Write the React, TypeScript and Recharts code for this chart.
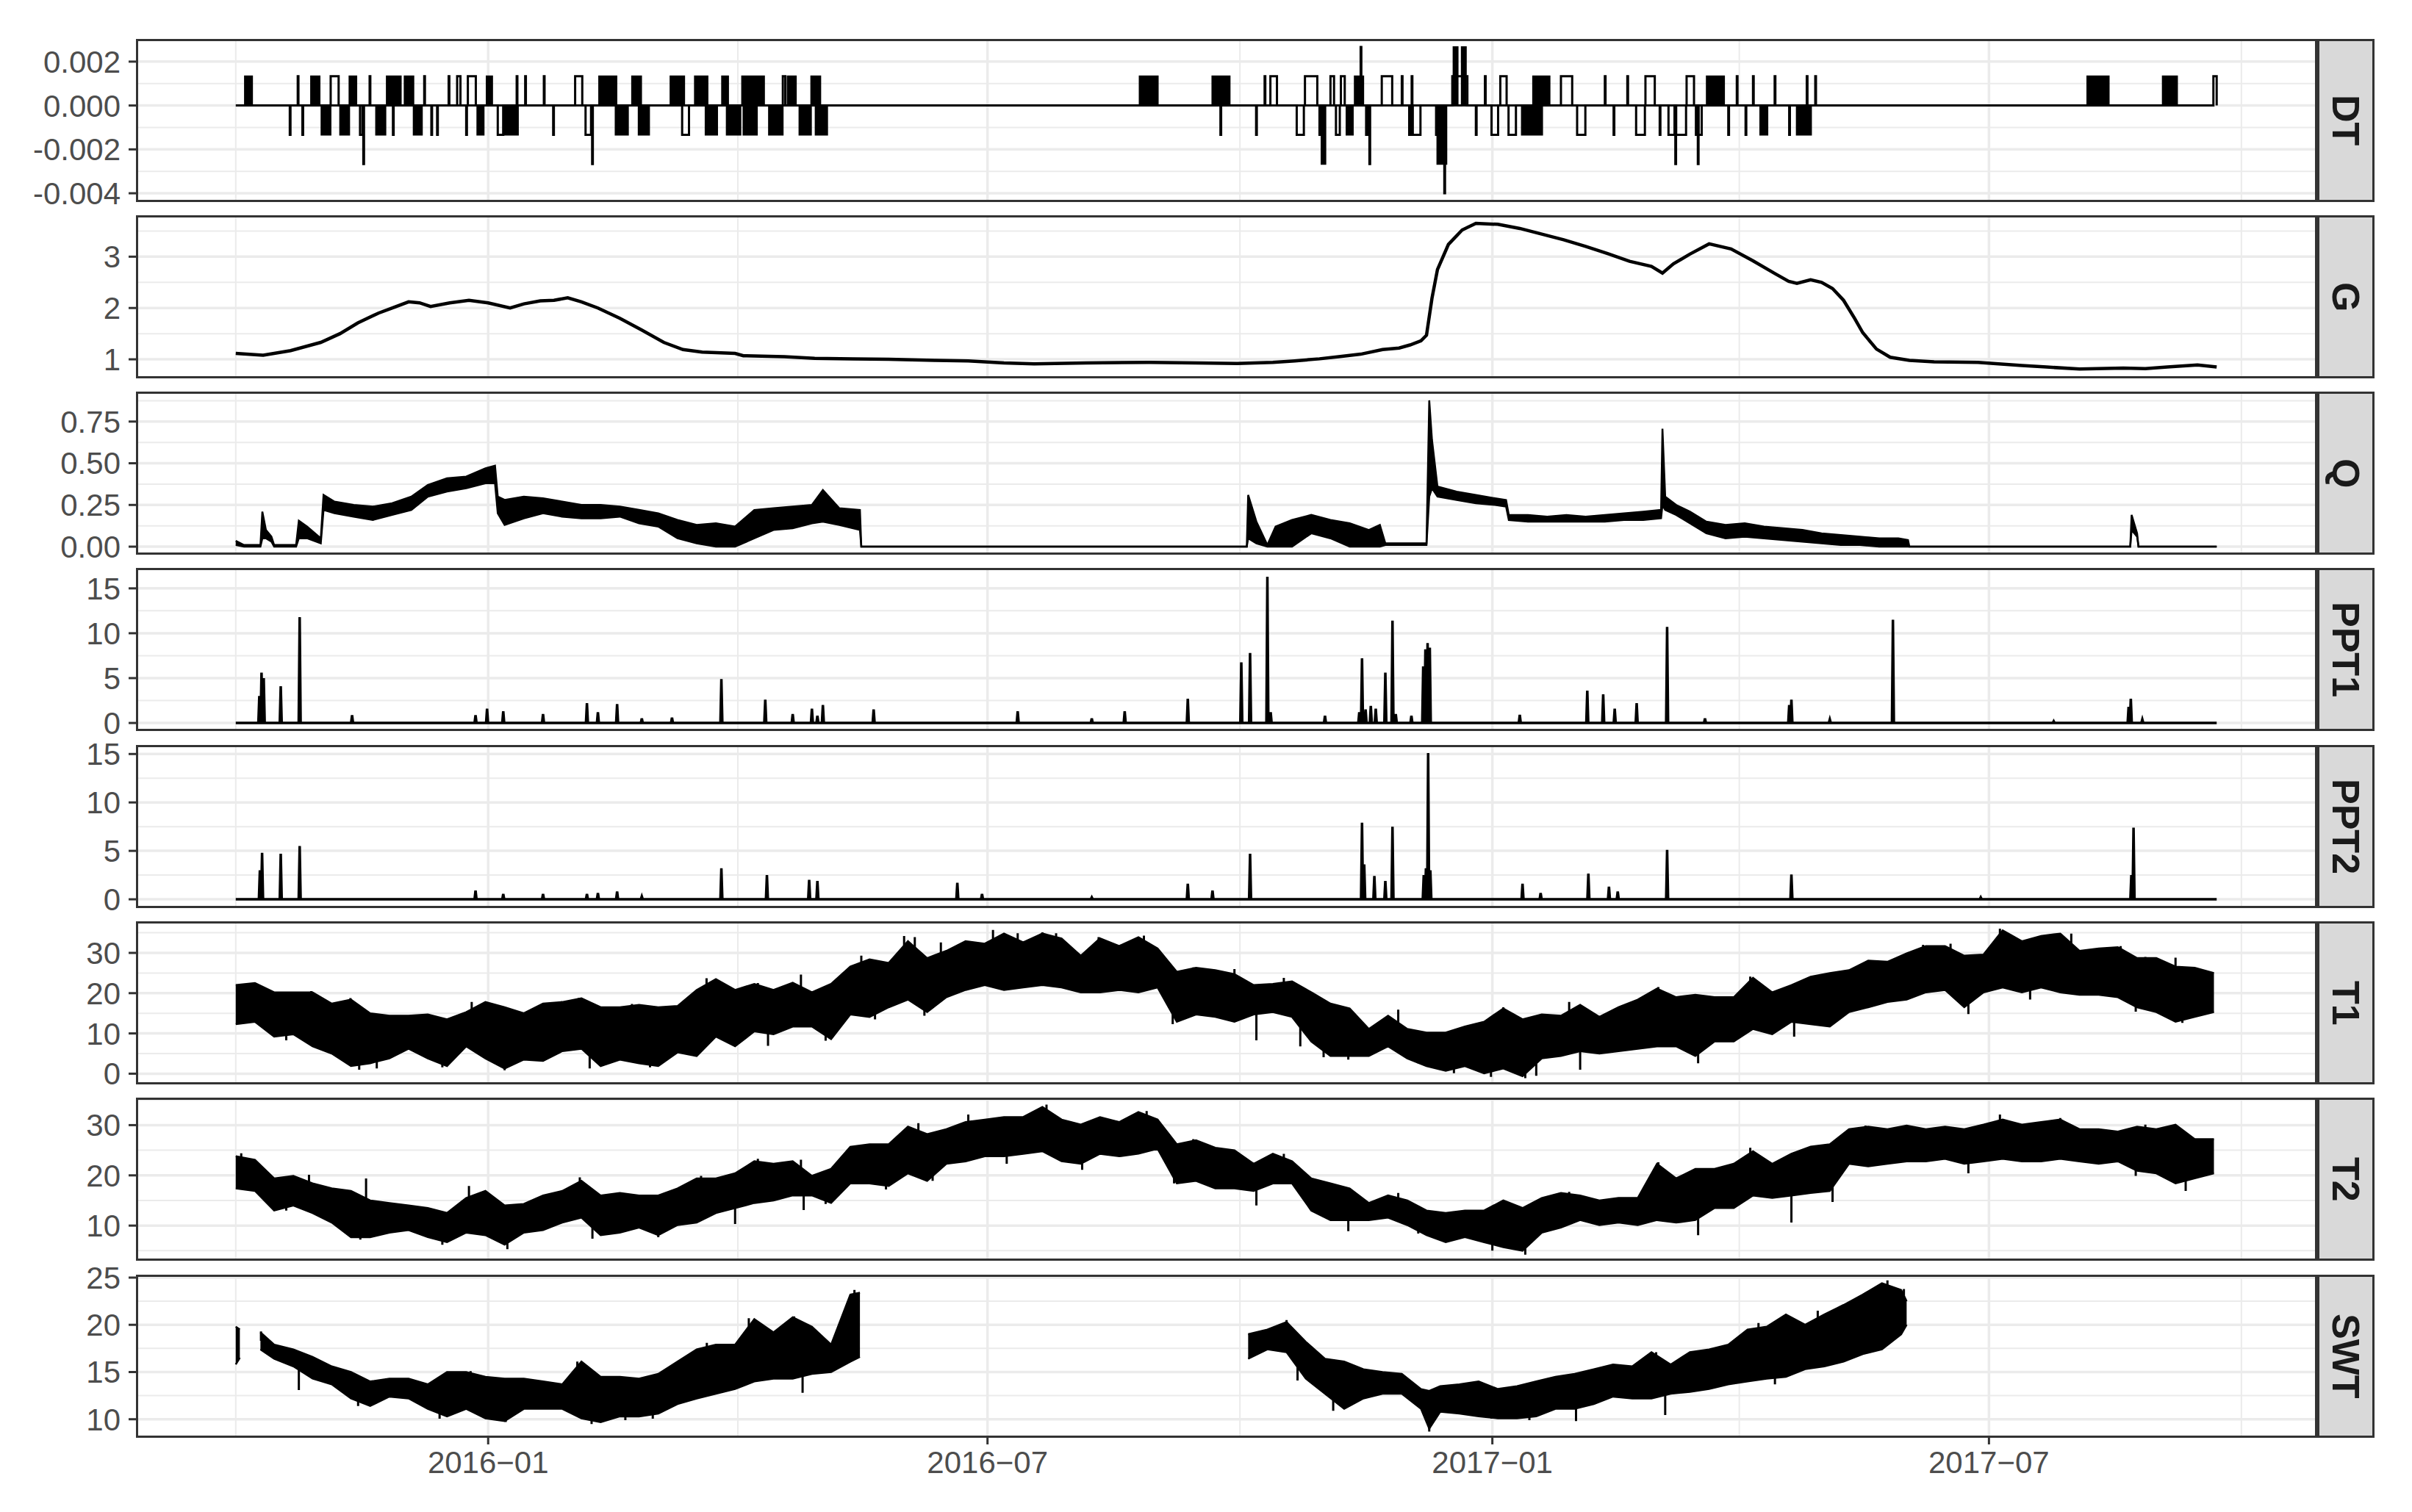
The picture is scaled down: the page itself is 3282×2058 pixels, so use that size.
import React from 'react';
import { ComposedChart, Line, Area, XAxis, YAxis, CartesianGrid } from 'recharts';

// x values are days since 2015-10-01
const X_DOMAIN = [-36.1, 758.1];
const LAST_DAY = 722;
const DATE_TICKS = [92, 274, 458, 639];
const DATE_LABELS = ['2016−01', '2016−07', '2017−01', '2017−07'];
const DATE_MINOR = [0, 183, 366, 548, 731];

// DT moves in steps of 1/750
const DT_STEP = 0.004 / 3;
// stretches of fast switching, drawn solid: [start, end, level]
const DT_BLOCKS_UP = [
  [3.3, 6.0, 1], [27.4, 30.6, 1], [41.4, 44, 1], [55, 60.2, 1], [61.5, 64.8, 1], [91.4, 93.5, 1],
  [132.4, 138.8, 1], [144.4, 147.8, 1], [158.4, 163.5, 1], [167.3, 172, 1], [177.2, 179.5, 1],
  [184.5, 192.6, 1], [201.1, 204.2, 1], [209.7, 213.1, 1], [329.4, 336.1, 1], [355.9, 362.3, 1],
  [407.8, 411, 1], [443.8, 445.4, 2], [446.8, 448.4, 2], [472.8, 478.9, 1], [536.1, 542.5, 1],
  [674.8, 682.7, 1], [702.3, 707.6, 1],
];
const DT_BLOCKS_DOWN = [
  [31.2, 34.6, -1], [38, 41.4, -1], [51.1, 54.6, -1], [64.8, 67.9, -1], [88, 90.4, -1], [97.5, 102.9, -1],
  [138.4, 143, -1], [146.8, 150.7, -1], [171.2, 175.5, -1], [178.9, 184, -1], [185, 190, -1],
  [194.3, 199.4, -1], [205.4, 209.7, -1], [211.3, 215.6, -1], [395.7, 397.2, -2], [404.8, 407.2, -1],
  [437.9, 441.3, -2], [468.7, 476.2, -1], [555.6, 558.3, -1], [568.9, 574.2, -1],
];
// single pulses: [start, end, level]
const DT_PULSES = [
  [19.7, 19.7, -1], [22.6, 22.6, 1], [24.3, 24.3, -1], [34.6, 37.5, 1], [45.3, 46.2, -1], [46.5, 46.5, -2],
  [48.8, 48.8, 1], [57.3, 57.3, -1], [68.7, 68.7, 1], [71.3, 71.3, -1], [73.4, 73.4, -1], [77.6, 77.6, 1],
  [80.7, 81.9, 1], [84, 84, -1], [84.6, 87.5, 1], [95.5, 97.5, -1], [102.4, 102.4, 1], [105.5, 105.5, 1],
  [112.3, 112.3, 1], [115.7, 115.7, -1], [123.7, 126.3, 1], [127.5, 129.5, -1], [129.9, 129.9, -2],
  [162.7, 165.2, -1], [199.4, 200.3, 1],
  [358.9, 358.9, -1], [371.9, 371.9, -1], [375, 375, 1], [377.1, 379.5, 1], [386.7, 389.3, -1],
  [389.7, 394.2, 1], [395, 395.6, -1], [399, 400.3, 1], [401, 402.4, -1], [402.8, 404.2, 1], [410, 410, 2],
  [412, 412.8, -1], [413.2, 413.2, -2], [417.7, 421.5, 1], [425, 425, 1], [427.7, 428.4, -1],
  [428.6, 428.6, 1], [429, 431.8, -1], [437.5, 437.8, -1], [440.5, 440.5, -3], [443.4, 448.9, 1],
  [452, 452, -1], [455.3, 455.3, 1], [457.7, 460.1, -1], [460.9, 463.2, 1], [463.9, 466.6, -1],
  [483, 487.1, 1], [488.9, 491.9, -1], [499, 499, 1], [502.2, 502.2, -1], [507.2, 507.2, 1],
  [510.4, 513.6, -1], [513.8, 517.2, 1], [519, 519, -1], [522.2, 524.4, -1], [524.7, 524.7, -2],
  [525, 528.6, -1], [528.8, 531.5, 1], [532.2, 532.6, -1], [532.9, 532.9, -2], [533.2, 534.3, -1],
  [544, 544, -1], [547.1, 547.1, 1], [550.3, 550.3, -1], [553, 553, 1], [560.9, 560.9, 1],
  [566.2, 566.2, -1], [572.6, 572.6, 1], [575.7, 575.7, 1], [720.8, 722, 1],
];

const G_DAYS = [
  0, 10, 20, 31, 38, 44.5, 52, 58, 63, 67, 71, 78, 85, 92, 100, 105, 111, 116, 121, 126, 132, 140, 148,
  156, 163, 170, 182, 185, 200, 211, 225, 238, 255, 267, 280, 291, 310, 333, 350, 365, 378, 386, 395,
  402, 410, 418, 424, 428, 432, 434, 436, 438, 442, 447, 452, 460, 468, 476, 484, 492, 500, 508, 516,
  520, 524, 530, 537, 545, 553, 561, 566, 569, 574, 578, 582, 586, 590, 593, 598, 603, 610, 619, 635,
  651, 660, 672, 688, 696, 704, 715, 722,
];
const G_VALS = [
  1.115, 1.08, 1.17, 1.33, 1.5, 1.71, 1.9, 2.02, 2.12, 2.1, 2.03, 2.1, 2.15, 2.1, 2.0, 2.08, 2.14, 2.15,
  2.2, 2.12, 2.0, 1.8, 1.57, 1.33, 1.19, 1.14, 1.115, 1.07, 1.05, 1.02, 1.01, 1.0, 0.98, 0.97, 0.93,
  0.91, 0.93, 0.94, 0.93, 0.92, 0.94, 0.97, 1.01, 1.05, 1.1, 1.19, 1.22, 1.28, 1.36, 1.47, 2.19, 2.75,
  3.24, 3.52, 3.65, 3.63, 3.55, 3.44, 3.33, 3.2, 3.06, 2.91, 2.81, 2.68, 2.86, 3.05, 3.25, 3.15, 2.92,
  2.67, 2.52, 2.48, 2.55, 2.5, 2.38, 2.15, 1.8, 1.52, 1.2, 1.04, 0.98, 0.95, 0.94, 0.88, 0.85, 0.81,
  0.83, 0.82, 0.85, 0.89, 0.85,
];

const Q_DAYS = [
  0, 3, 9, 9.7, 11, 13, 14, 22, 23, 26, 31, 32, 36, 43, 50, 57, 64, 70, 77, 84, 91, 94.5, 95.5, 98, 105,
  112, 119, 126, 133, 140, 147, 154, 161, 168, 175, 182, 189, 196, 203, 210, 214, 220, 227.5, 228,
  368.5, 369, 372, 376, 379, 385, 392, 399, 406, 413, 417, 419, 434, 435, 436, 438, 445, 452, 459, 463,
  464, 471, 478, 485, 492, 499, 506, 513, 519.5, 520, 521, 525, 530, 536, 543, 550, 557, 564, 571, 578,
  585, 592, 599, 606, 609.5, 610, 690.5, 691, 693, 693.5, 722,
];
const Q_LO = [
  0.01, 0, 0, 0.05, 0.05, 0.03, 0, 0, 0.05, 0.05, 0.02, 0.22, 0.2, 0.18, 0.16, 0.19, 0.22, 0.3, 0.33,
  0.35, 0.38, 0.38, 0.2, 0.13, 0.17, 0.2, 0.18, 0.17, 0.17, 0.18, 0.14, 0.12, 0.05, 0.02, 0, 0, 0.05,
  0.1, 0.11, 0.14, 0.15, 0.13, 0.1, 0, 0, 0.05, 0.02, 0, 0, 0, 0.08, 0.05, 0, 0, 0, 0.01, 0.01, 0.3,
  0.35, 0.3, 0.28, 0.26, 0.25, 0.24, 0.16, 0.15, 0.15, 0.15, 0.15, 0.15, 0.16, 0.16, 0.17, 0.25, 0.22,
  0.19, 0.14, 0.08, 0.05, 0.06, 0.05, 0.04, 0.03, 0.02, 0.01, 0.01, 0, 0, 0, 0, 0, 0.1, 0.06, 0, 0,
];
const Q_HI = [
  0.035, 0.01, 0.01, 0.21, 0.1, 0.06, 0.01, 0.01, 0.155, 0.12, 0.05, 0.31, 0.27, 0.25, 0.24, 0.26, 0.3,
  0.37, 0.41, 0.42, 0.47, 0.485, 0.3, 0.28, 0.3, 0.29, 0.27, 0.25, 0.25, 0.24, 0.22, 0.2, 0.16, 0.13,
  0.14, 0.12, 0.22, 0.23, 0.24, 0.25, 0.34, 0.23, 0.22, 0, 0, 0.31, 0.15, 0.01, 0.12, 0.16, 0.19, 0.16,
  0.14, 0.1, 0.13, 0.02, 0.02, 0.877, 0.64, 0.36, 0.33, 0.31, 0.29, 0.28, 0.19, 0.19, 0.18, 0.19, 0.18,
  0.19, 0.2, 0.21, 0.22, 0.707, 0.3, 0.25, 0.21, 0.15, 0.13, 0.14, 0.12, 0.11, 0.1, 0.08, 0.07, 0.06,
  0.05, 0.05, 0.04, 0, 0, 0.19, 0.08, 0, 0,
];

// rain spikes: [day, value]
const PPT1_SPIKES = [
  [8.6, 3.0], [9.4, 5.6], [10.2, 5.0], [16.4, 4.1], [23.3, 11.8], [42.4, 0.86], [87.4, 0.86], [91.6, 1.6],
  [97.5, 1.3], [112, 1.0], [128, 2.2], [132, 1.2], [139, 2.1], [148, 0.5], [159, 0.6], [177, 4.9],
  [193, 2.6], [203, 1.0], [210, 1.6], [212, 0.8], [214, 2.0], [232.5, 1.5], [285, 1.3], [312, 0.5],
  [324, 1.3], [347, 2.7], [366.5, 6.75], [369.7, 7.8], [376, 16.3], [377.2, 1.2], [397, 0.8],
  [409.5, 1.2], [410.5, 7.2], [411.8, 1.5], [413.7, 1.9], [415.5, 1.6], [419, 5.6], [421.6, 11.4],
  [422.8, 1.0], [428.5, 0.8], [432.8, 6.3], [433.6, 8.2], [434.4, 8.9], [435.2, 8.4], [468, 0.9],
  [492.6, 3.6], [498.4, 3.2], [502.6, 1.6], [510.6, 2.2], [521.7, 10.7], [535.5, 0.5], [566.2, 2.0],
  [567, 2.6], [581, 0.4], [604, 11.5], [662.6, 0.2], [689.9, 1.8], [690.7, 2.7], [694.9, 0.4],
];
const PPT2_SPIKES = [
  [8.8, 3.0], [9.6, 4.8], [16.4, 4.7], [23.3, 5.5], [87.4, 0.9], [97.5, 0.55], [112, 0.55], [128, 0.55],
  [132, 0.65], [139, 0.8], [148, 0.3], [177, 3.2], [193.6, 2.5], [209, 2.0], [212, 1.9], [263, 1.7],
  [272, 0.55], [312, 0.2], [347, 1.6], [356, 0.9], [369.7, 4.7], [410.5, 7.9], [411.3, 3.6], [415, 2.4],
  [419, 1.9], [421.6, 7.5], [433, 2.5], [433.8, 3.2], [434.6, 15.1], [435.4, 3.0], [469, 1.6],
  [475.6, 0.65], [493, 2.65], [500.5, 1.3], [503.7, 0.8], [521.7, 5.1], [567, 2.55], [636, 0.2],
  [690.9, 2.5], [691.7, 7.4],
];

// T1 / T2: weekly low and high envelope, first sample on day 0
const WEEK = 7;
const T1_HI = [
  22.0, 22.5, 20.2, 20.2, 20.2, 17.4, 18.4, 15.0, 14.4, 14.4, 14.7, 13.5, 15.3, 17.8, 16.5, 15.0, 17.4,
  17.8, 18.7, 16.5, 16.5, 17.1, 16.5, 16.8, 20.8, 23.5, 20.8, 22.3, 20.8, 22.6, 20.2, 22.3, 26.6, 28.4,
  27.5, 32.9, 28.7, 30.5, 32.9, 32.3, 34.8, 32.6, 34.8, 33.6, 29.3, 33.6, 31.7, 33.9, 31.1, 25.3, 26.3,
  25.7, 24.7, 22.0, 22.3, 22.9, 20.2, 17.4, 16.2, 11.1, 14.4, 11.1, 10.2, 10.2, 11.7, 12.9, 16.2, 13.5,
  14.7, 14.4, 17.1, 14.1, 16.5, 18.4, 21.1, 19.0, 19.6, 19.0, 19.0, 23.8, 20.2, 22.0, 24.1, 25.0, 25.7,
  28.1, 27.8, 29.9, 31.7, 31.7, 29.3, 29.6, 35.6, 32.9, 34.2, 34.8, 30.5, 31.1, 31.4, 28.7, 28.7, 26.6,
  26.3, 25.0,
];
const T1_LO = [
  12.3, 12.9, 9.2, 9.8, 6.8, 5.0, 1.9, 2.6, 3.8, 6.2, 3.8, 1.9, 6.8, 3.8, 1.3, 3.5, 3.2, 5.6, 6.2, 1.9,
  3.5, 2.6, 1.9, 5.3, 4.4, 9.2, 6.8, 10.5, 9.8, 11.7, 11.7, 8.6, 14.7, 14.1, 16.5, 18.4, 15.3, 19.0,
  20.8, 22.0, 20.8, 21.4, 22.0, 21.4, 20.2, 20.2, 20.8, 20.2, 21.4, 12.9, 14.7, 14.1, 12.9, 14.7, 15.3,
  14.1, 8.0, 4.4, 4.4, 4.4, 6.8, 3.8, 1.9, 0.7, 1.9, 0.1, 1.3, -0.6, 3.8, 4.4, 5.6, 5.0, 5.6, 6.2, 6.8,
  6.8, 4.4, 8.0, 8.0, 11.1, 9.8, 12.9, 12.3, 11.7, 15.3, 16.5, 17.8, 18.4, 20.2, 20.8, 16.5, 20.2,
  21.4, 20.2, 21.4, 20.2, 19.6, 19.6, 19.0, 16.5, 15.3, 12.9, 14.1, 15.3,
];
// single readings that poke out of the T1 envelope: [day, value]
const T1_SPIKES = [
  [18.4, 8.3], [27.5, 20.5], [39.7, 4.4], [41.8, 18.8], [45, 1.0], [51.4, 1.3], [75.3, 1.6], [86, 17.8],
  [98, 0.85], [113, 17.4], [125, 18.8], [129, 1.3], [144.4, 17.3], [151, 1.6], [171.6, 23.7], [190.3, 22.5],
  [194, 6.9], [206, 24.6], [215, 8.2], [228, 29.3], [233, 13.5], [243.6, 34.2], [247.5, 33.9], [251, 14.4],
  [257, 32.6], [276, 35.7], [285, 34.9], [294, 35.1], [299, 34.9], [314.5, 33.9], [331, 34.3],
  [341.5, 12.3], [349, 26.4], [364, 26.0], [372, 8.3], [382, 23.8], [388, 6.8], [396.5, 4.1],
  [405.5, 3.5], [423.7, 15.9], [431, 2.6], [444, 0.1], [457.5, -0.8], [462, 16.5], [470, -1.1],
  [474, -0.5], [486, 17.8], [490, 1.0], [518.5, 21.5], [533, 2.6], [552, 24.1], [568, 9.2],
  [577.5, 24.7], [615, 32.0], [625, 32.3], [631.5, 14.8], [643, 36.0], [654, 18.4], [660, 34.5],
  [669, 34.8], [687, 31.7], [692.5, 15.4], [696, 29.0], [707, 28.8], [709.5, 12.6],
];
const T2_HI = [
  23.8, 23.1, 19.4, 19.9, 18.4, 17.4, 16.9, 15.0, 14.5, 14.0, 13.5, 12.5, 15.5, 16.9, 14.0, 14.3, 16.0,
  16.9, 18.9, 16.0, 16.5, 16.0, 16.0, 17.4, 19.4, 19.4, 20.4, 22.8, 22.3, 22.8, 19.9, 21.3, 25.7, 26.2,
  26.2, 29.7, 28.2, 29.2, 30.6, 31.1, 31.6, 31.6, 33.6, 31.1, 30.1, 31.6, 30.6, 32.6, 31.1, 26.2, 27.0,
  25.5, 25.0, 22.3, 24.3, 22.8, 19.4, 18.4, 17.4, 14.5, 16.0, 15.0, 13.0, 12.5, 13.0, 13.0, 15.0, 13.5,
  15.5, 16.5, 16.0, 15.0, 15.5, 15.5, 22.3, 19.4, 21.3, 21.3, 22.3, 24.8, 22.3, 24.3, 25.7, 26.2, 29.2,
  29.7, 29.2, 29.9, 29.2, 29.7, 29.2, 30.1, 31.1, 30.1, 30.6, 31.1, 29.2, 29.2, 28.7, 29.7, 29.2, 30.1,
  27.2, 27.2,
];
const T2_LO = [
  17.4, 16.9, 13.0, 14.0, 12.5, 10.6, 7.7, 7.7, 8.6, 9.1, 7.7, 6.7, 8.6, 8.1, 6.2, 8.6, 9.1, 10.6, 11.6,
  8.1, 8.6, 9.6, 8.1, 10.1, 10.6, 12.5, 13.5, 14.5, 15.0, 16.0, 16.0, 14.5, 18.4, 18.4, 17.9, 20.4, 18.9,
  22.3, 22.8, 23.8, 23.8, 24.3, 24.8, 22.8, 22.3, 24.3, 23.8, 24.3, 25.3, 18.4, 18.9, 17.4, 17.4, 16.9,
  18.4, 18.4, 13.0, 11.1, 11.1, 11.1, 11.6, 10.1, 8.1, 6.7, 7.7, 6.7, 5.7, 5.0, 8.6, 9.6, 11.1, 10.1,
  10.6, 10.1, 11.1, 10.6, 11.1, 13.5, 13.5, 16.0, 15.5, 16.0, 16.5, 16.9, 22.3, 21.8, 22.3, 22.8, 22.8,
  23.3, 22.3, 22.8, 23.3, 22.8, 22.8, 23.3, 22.8, 22.3, 22.8, 20.9, 20.4, 18.4, 19.4, 20.4,
];
const T2_SPIKES = [
  [2, 24.4], [18.4, 13.0], [26.7, 20.1], [45.4, 7.2], [47.5, 19.4], [75.3, 6.2], [85, 17.9], [99, 5.3],
  [125.4, 19.6], [130, 7.4], [154, 7.7], [169.6, 19.9], [182, 10.3], [190.3, 23.3], [206, 23.1],
  [207, 13.1], [215, 14.3], [237, 17.2], [248.8, 30.4], [254, 18.9], [267, 32.1], [281, 22.3],
  [295.5, 34.1], [308.5, 21.1], [332, 32.8], [342, 18.4], [349, 27.2], [372, 14.0], [382, 24.3],
  [405.5, 8.9], [423.7, 16.5], [431, 8.4], [458, 5.0], [470, 4.2], [486, 16.7], [518.5, 22.6],
  [533, 8.1], [552, 25.5], [567, 10.6], [582, 14.7], [594, 29.9], [631.5, 20.4], [643, 32.1],
  [665, 31.4], [692.5, 19.9], [696, 30.1], [707, 29.9], [710.7, 16.9],
];

// SWT: null marks a gap in the record
const SWT_DAYS = [
  0, 1.5, null,
  9, 14, 21, 28, 35, 42, 49, 56, 63, 70, 77, 84, 91, 98, 105, 112, 119, 126, 133, 140, 147, 154, 161,
  168, 175, 182, 189, 196, 203, 210, 217, 224, 227.5, null,
  369, 376, 383, 390, 397, 404, 411, 418, 425, 432, 435, 439, 446, 453, 460, 467, 474, 481, 488, 495,
  502, 509, 516, 523, 530, 537, 544, 551, 558, 565, 572, 579, 586, 593, 600, 607, 609,
];
const SWT_HI = [
  19.8, 19.5, null,
  19.2, 17.9, 17.4, 16.6, 15.6, 15.0, 14.0, 14.3, 14.3, 13.7, 15.0, 15.0, 14.5, 14.3, 14.3, 14.0, 13.7,
  16.1, 14.5, 14.5, 14.3, 14.8, 16.1, 17.4, 17.9, 17.9, 20.6, 19.2, 20.8, 19.8, 17.9, 23.2, 23.4, null,
  19.0, 19.5, 20.3, 18.2, 16.4, 16.1, 15.3, 15.0, 14.8, 13.2, 13.0, 13.5, 13.7, 14.0, 13.2, 13.5, 14.0,
  14.5, 14.8, 15.3, 15.8, 15.6, 17.1, 15.8, 17.1, 17.4, 17.9, 19.5, 19.8, 21.1, 20.0, 21.1, 22.1, 23.2,
  24.4, 23.7, 22.5,
];
const SWT_LO = [
  15.8, 16.5, null,
  17.4, 16.4, 15.6, 14.3, 13.7, 12.2, 11.4, 12.4, 12.2, 11.1, 10.3, 11.1, 10.1, 9.8, 11.1, 11.1, 11.1,
  10.1, 9.7, 10.3, 10.3, 10.6, 11.6, 12.2, 12.7, 13.2, 14.0, 14.3, 14.3, 14.8, 15.0, 16.1, 16.6, null,
  16.4, 17.4, 17.1, 14.3, 12.7, 11.1, 12.2, 12.7, 12.7, 11.1, 9.0, 10.8, 10.6, 10.3, 10.1, 10.1, 10.3,
  11.1, 11.1, 11.6, 12.4, 12.2, 12.2, 12.7, 12.9, 13.2, 13.7, 14.0, 14.3, 14.5, 15.3, 15.6, 16.1, 16.9,
  17.4, 19.0, 20.0,
];
const SWT_SPIKES = [
  [9.2, 19.3], [23, 13.1], [44.6, 11.4], [74.3, 10.05], [85.6, 15.1], [98.4, 9.7], [124.5, 16.1],
  [129.7, 9.5], [142, 9.9], [152, 10.05], [171.7, 18.1], [187, 20.7], [203.5, 20.9], [206.6, 12.8],
  [225.5, 23.7], [383, 20.5], [387, 14.1], [400, 10.9], [435, 8.7], [457.7, 10.05], [471.5, 9.9],
  [488.5, 9.8], [517.7, 17.1], [521, 10.45], [555, 20.2], [561, 13.7], [576.6, 21.5], [602, 24.7],
  [608, 23.8],
];

// ---- table builders ----
const weekDays = (arr) => arr.map((_, i) => i * WEEK);
const band = (days, lo, hi) => days.map((d, i) => ({ x: d, r: [lo[i], hi[i]] }));

function bandSegments(days, lo, hi) {
  const segs = [];
  let cur = [];
  days.forEach((d, i) => {
    if (d === null) {
      if (cur.length) segs.push(cur);
      cur = [];
    } else {
      cur.push({ x: d, r: [lo[i], hi[i]] });
    }
  });
  if (cur.length) segs.push(cur);
  return segs;
}

// each spike is a vertical stroke from the middle of the nearest envelope sample out to its reading
function spikeMarks(spikes, days, lo, hi) {
  const pts = [];
  spikes.forEach(([d, v]) => {
    let k = -1;
    days.forEach((s, i) => {
      if (s !== null && (k < 0 || Math.abs(s - d) < Math.abs(days[k] - d))) k = i;
    });
    const mid = (lo[k] + hi[k]) / 2;
    pts.push({ x: d, y: mid }, { x: d, y: v }, { x: d, y: null });
  });
  return pts;
}

function spikeLine(spikes) {
  const pts = [{ x: 0, y: 0 }];
  spikes.forEach(([d, v]) => {
    pts.push({ x: d - 0.35, y: 0 }, { x: d, y: v }, { x: d + 0.35, y: 0 });
  });
  pts.push({ x: LAST_DAY, y: 0 });
  return pts;
}

function pulseLine(pulses) {
  const pts = [{ x: 0, y: 0 }];
  pulses.forEach(([s, e, lv]) => {
    const end = Math.max(e, s + 0.25);
    const v = lv * DT_STEP;
    pts.push({ x: s, y: 0 }, { x: s, y: v }, { x: end, y: v }, { x: end, y: 0 });
  });
  pts.push({ x: LAST_DAY, y: 0 });
  return pts;
}

function blockArea(blocks) {
  const pts = [];
  blocks.forEach(([s, e, lv]) => {
    const v = lv * DT_STEP;
    const r = v > 0 ? [0, v] : [v, 0];
    pts.push({ x: s, r: [0, 0] }, { x: s, r }, { x: e, r }, { x: e, r: [0, 0] });
  });
  return pts;
}

// ---- layout ----
const W = 3282;
const PANEL_LEFT = 186;
const PANEL_RIGHT = 3151;
const PANEL_TOP = 54;
const PANEL_STEP = 240.3;
const PANEL_H = 219;
const PAD = 30;
const Y_AXIS_W = 170;
const X_AXIS_H = 90;
const STRIP_X = 3153;
const STRIP_W = 78;
const FONT = '"Liberation Sans", Arial, Helvetica, sans-serif';

const lineProps = {
  type: 'linear' as const,
  stroke: '#000000',
  strokeWidth: 3.5,
  dot: false,
  activeDot: false,
  isAnimationActive: false,
};
const bandProps = {
  type: 'linear' as const,
  stroke: '#000000',
  strokeWidth: 2.5,
  fill: '#000000',
  fillOpacity: 1,
  dot: false,
  activeDot: false,
  isAnimationActive: false,
};

const PANELS = [
  {
    name: 'DT',
    domain: [-0.004333, 0.003],
    ticks: [-0.004, -0.002, 0, 0.002],
    minor: [-0.003, -0.001, 0.001],
    fmt: (v) => v.toFixed(3),
    series: [
      <Area key="up" data={blockArea(DT_BLOCKS_UP)} dataKey="r" {...bandProps} strokeWidth={2} />,
      <Area key="down" data={blockArea(DT_BLOCKS_DOWN)} dataKey="r" {...bandProps} strokeWidth={2} />,
      <Line key="p" data={pulseLine(DT_PULSES)} dataKey="y" {...lineProps} strokeWidth={3} />,
    ],
  },
  {
    name: 'G',
    domain: [0.6575, 3.7925],
    ticks: [1, 2, 3],
    minor: [1.5, 2.5, 3.5],
    fmt: (v) => String(v),
    series: [
      <Line key="g" data={G_DAYS.map((d, i) => ({ x: d, y: G_VALS[i] }))} dataKey="y" {...lineProps} strokeWidth={4.5} />,
    ],
  },
  {
    name: 'Q',
    domain: [-0.04385, 0.92085],
    ticks: [0, 0.25, 0.5, 0.75],
    minor: [0.125, 0.375, 0.625, 0.875],
    fmt: (v) => v.toFixed(2),
    series: [<Area key="q" data={band(Q_DAYS, Q_LO, Q_HI)} dataKey="r" {...bandProps} />],
  },
  {
    name: 'PPT1',
    domain: [-0.815, 17.115],
    ticks: [0, 5, 10, 15],
    minor: [2.5, 7.5, 12.5],
    fmt: (v) => String(v),
    series: [<Line key="p1" data={spikeLine(PPT1_SPIKES)} dataKey="y" {...lineProps} />],
  },
  {
    name: 'PPT2',
    domain: [-0.755, 15.855],
    ticks: [0, 5, 10, 15],
    minor: [2.5, 7.5, 12.5],
    fmt: (v) => String(v),
    series: [<Line key="p2" data={spikeLine(PPT2_SPIKES)} dataKey="y" {...lineProps} />],
  },
  {
    name: 'T1',
    domain: [-2.48, 37.48],
    ticks: [0, 10, 20, 30],
    minor: [5, 15, 25, 35],
    fmt: (v) => String(v),
    series: [
      <Area key="t1" data={band(weekDays(T1_HI), T1_LO, T1_HI)} dataKey="r" {...bandProps} />,
      <Line key="t1s" data={spikeMarks(T1_SPIKES, weekDays(T1_HI), T1_LO, T1_HI)} dataKey="y" {...lineProps} strokeWidth={3} />,
    ],
  },
  {
    name: 'T2',
    domain: [3.15, 35.18],
    ticks: [10, 20, 30],
    minor: [5, 15, 25, 35],
    fmt: (v) => String(v),
    series: [
      <Area key="t2" data={band(weekDays(T2_HI), T2_LO, T2_HI)} dataKey="r" {...bandProps} />,
      <Line key="t2s" data={spikeMarks(T2_SPIKES, weekDays(T2_HI), T2_LO, T2_HI)} dataKey="y" {...lineProps} strokeWidth={3} />,
    ],
  },
  {
    name: 'SWT',
    domain: [8.19, 25.23],
    ticks: [10, 15, 20, 25],
    minor: [12.5, 17.5, 22.5],
    fmt: (v) => String(v),
    series: [
      ...bandSegments(SWT_DAYS, SWT_LO, SWT_HI).map((seg, i) => (
        <Area key={'swt' + i} data={seg} dataKey="r" {...bandProps} />
      )),
      <Line key="swts" data={spikeMarks(SWT_SPIKES, SWT_DAYS, SWT_LO, SWT_HI)} dataKey="y" {...lineProps} strokeWidth={3} />,
    ],
  },
];

function Panel({ index, panel, last }) {
  const top = PANEL_TOP + index * PANEL_STEP;
  const h = PANEL_H + 2 * PAD + (last ? X_AXIS_H : 0);
  return (
    <div style={{ position: 'absolute', left: 0, top: top - PAD, width: W, height: h }}>
      <ComposedChart
        width={W}
        height={h}
        margin={{ top: PAD, right: W - PANEL_RIGHT, bottom: PAD, left: PANEL_LEFT - Y_AXIS_W }}
      >
        <CartesianGrid
          horizontalValues={panel.minor}
          verticalValues={DATE_MINOR}
          stroke="#EBEBEB"
          strokeWidth={2}
          fill="none"
        />
        <CartesianGrid
          horizontalValues={panel.ticks}
          verticalValues={DATE_TICKS}
          stroke="#EBEBEB"
          strokeWidth={3.5}
          fill="none"
        />
        <XAxis
          type="number"
          dataKey="x"
          domain={X_DOMAIN}
          ticks={DATE_TICKS}
          allowDataOverflow
          hide={!last}
          height={X_AXIS_H}
          axisLine={false}
          tickLine={{ stroke: '#333333', strokeWidth: 3 }}
          tickSize={11}
          tickMargin={9}
          tick={{ fontSize: 42, fill: '#4D4D4D', fontFamily: FONT }}
          tickFormatter={(v) => DATE_LABELS[DATE_TICKS.indexOf(v)]}
        />
        <YAxis
          type="number"
          domain={panel.domain}
          ticks={panel.ticks}
          allowDataOverflow
          width={Y_AXIS_W}
          axisLine={false}
          tickLine={{ stroke: '#333333', strokeWidth: 3 }}
          tickSize={11}
          tickMargin={11}
          interval={0}
          tick={{ fontSize: 42, fill: '#4D4D4D', fontFamily: FONT }}
          tickFormatter={panel.fmt}
        />
        {panel.series}
      </ComposedChart>
      <div
        style={{
          position: 'absolute',
          left: PANEL_LEFT - 1.5,
          top: PAD - 1.5,
          width: PANEL_RIGHT - PANEL_LEFT + 3,
          height: PANEL_H + 3,
          border: '3px solid #333333',
          boxSizing: 'border-box',
          pointerEvents: 'none',
        }}
      />
      <div
        style={{
          position: 'absolute',
          left: STRIP_X,
          top: PAD - 1.5,
          width: STRIP_W,
          height: PANEL_H + 3,
          background: '#D9D9D9',
          border: '3px solid #333333',
          boxSizing: 'border-box',
          display: 'flex',
          alignItems: 'center',
          justifyContent: 'center',
          writingMode: 'vertical-rl',
          fontFamily: FONT,
          fontWeight: 'bold',
          fontSize: 52,
          color: '#1A1A1A',
        }}
      >
        {panel.name}
      </div>
    </div>
  );
}

export default function App() {
  return (
    <div style={{ position: 'relative', width: W, height: 2058, background: '#FFFFFF' }}>
      <style>{'body { margin: 0; }'}</style>
      {PANELS.map((p, i) => (
        <Panel key={p.name} index={i} panel={p} last={i === PANELS.length - 1} />
      ))}
    </div>
  );
}
